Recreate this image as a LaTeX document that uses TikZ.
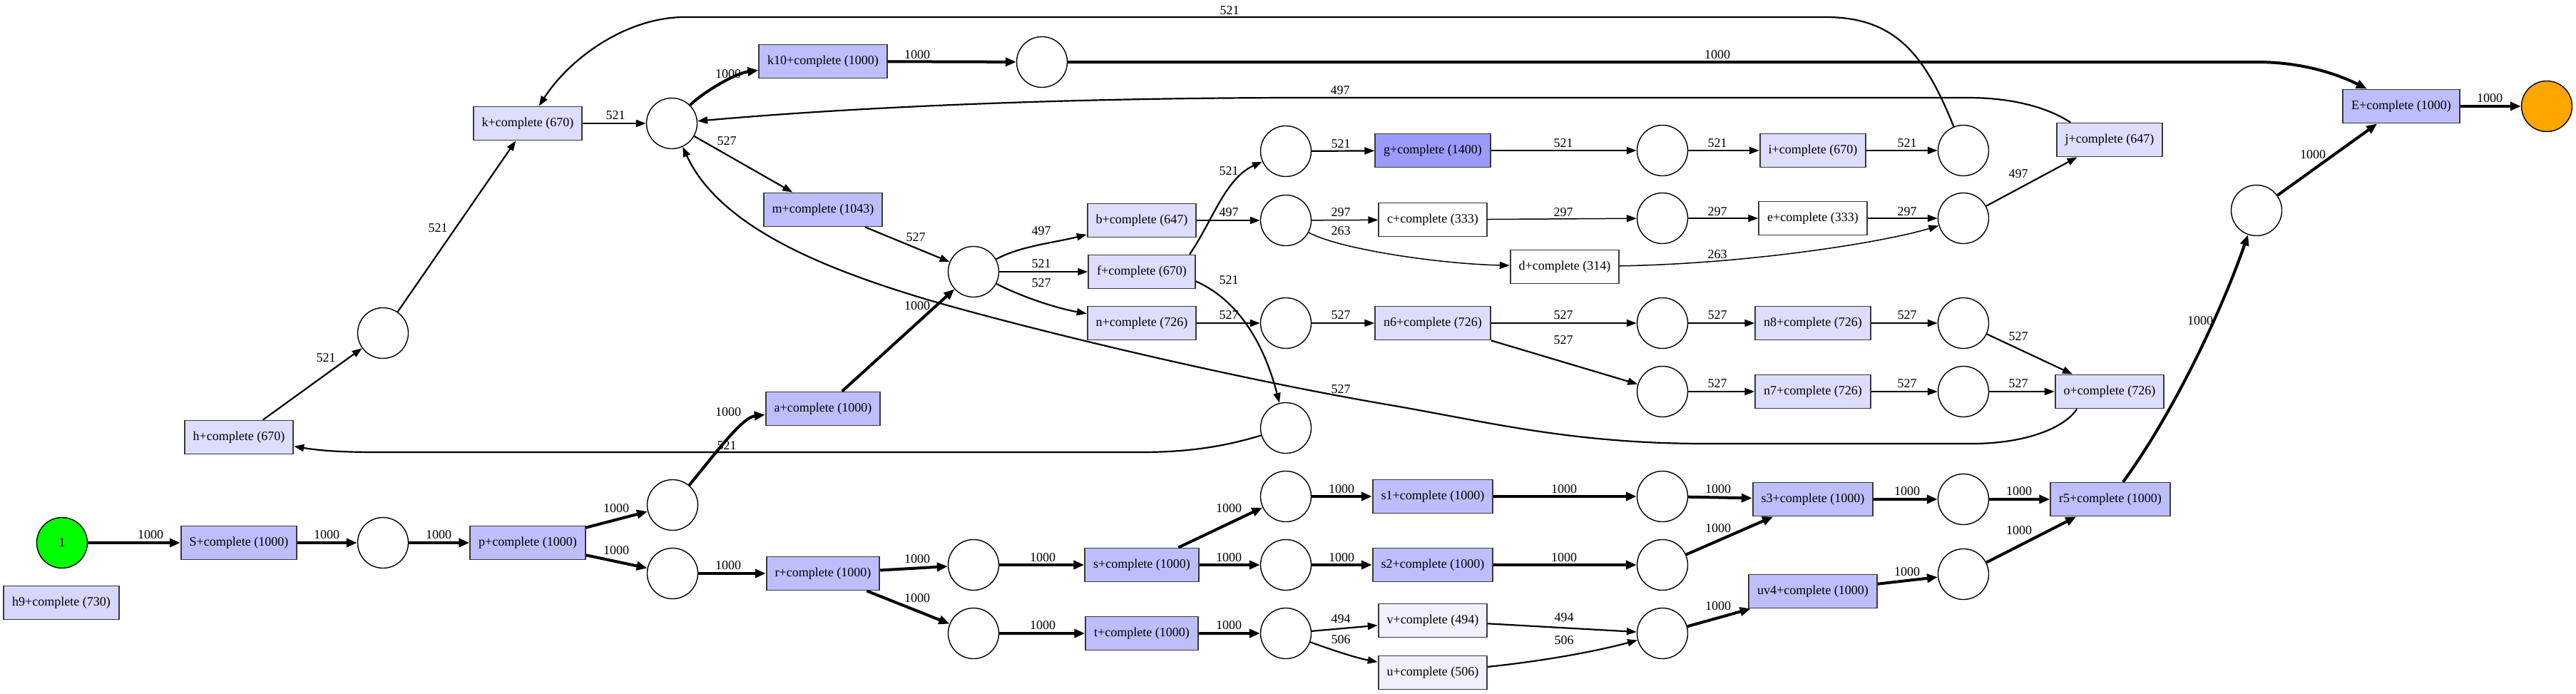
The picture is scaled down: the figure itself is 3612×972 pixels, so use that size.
\documentclass[tikz,border=0pt]{standalone}
\usepackage{fontspec}
\setmainfont{Liberation Serif}
\usetikzlibrary{arrows.meta}
\definecolor{c1000}{RGB}{190,190,255}
\definecolor{c670}{RGB}{221,221,255}
\definecolor{c730}{RGB}{214,214,255}
\definecolor{c1400}{RGB}{155,155,255}
\definecolor{c494}{RGB}{240,240,255}
\definecolor{c333}{RGB}{253,253,255}
\definecolor{cgreen}{RGB}{0,255,0}
\definecolor{corange}{RGB}{255,165,0}
\begin{document}
\begin{tikzpicture}[x=1pt,y=-1pt,
  tr/.style={draw=black!78, line width=1.8pt, rectangle, minimum height=47pt, inner xsep=12pt, inner ysep=0pt, font=\fontsize{18}{20}\selectfont},
  pl/.style={draw=black, circle, line width=1.4pt, minimum size=71pt, inner sep=0pt, fill=white, font=\fontsize{18}{20}\selectfont},
  lbl/.style={inner sep=0pt, font=\fontsize{18}{20}\selectfont},
  e4/.style={line width=4pt, -{Triangle[length=15pt,width=12pt]}},
  e2/.style={line width=2.2pt, -{Triangle[length=14pt,width=10pt]}},
  e1/.style={line width=1.5pt, -{Triangle[length=14pt,width=10pt]}}]
\useasboundingbox (0,0) rectangle (3612,972);
% transitions
\node[tr,fill=c1000] (S) at (335,761) {S+complete (1000)};
\node[tr,fill=c670] (h) at (335,613) {h+complete (670)};
\node[tr,fill=c730] (h9) at (86,845) {h9+complete (730)};
\node[tr,fill=c1000] (p) at (740,761) {p+complete (1000)};
\node[tr,fill=c670] (k) at (740,173) {k+complete (670)};
\node[tr,fill=c1000] (k10) at (1154,86) {k10+complete (1000)};
\node[tr,fill=c1000] (m) at (1154,294) {m+complete (1043)};
\node[tr,fill=c1000] (a) at (1154,573) {a+complete (1000)};
\node[tr,fill=c1000] (r) at (1154,804) {r+complete (1000)};
\node[tr,fill=c670] (b) at (1601,309) {b+complete (647)};
\node[tr,fill=c670] (f) at (1601,381) {f+complete (670)};
\node[tr,fill=c670] (n) at (1601,453) {n+complete (726)};
\node[tr,fill=c1000] (s) at (1601,792) {s+complete (1000)};
\node[tr,fill=c1000] (t) at (1601,888) {t+complete (1000)};
\node[tr,fill=c1400] (g) at (2009,211) {g+complete (1400)};
\node[tr,fill=c333] (c) at (2009,308) {c+complete (333)};
\node[tr,fill=c333] (d) at (2194,374) {d+complete (314)};
\node[tr,fill=c670] (n6) at (2009,453) {n6+complete (726)};
\node[tr,fill=c1000] (s1) at (2009,696) {s1+complete (1000)};
\node[tr,fill=c1000] (s2) at (2009,792) {s2+complete (1000)};
\node[tr,fill=c494] (v) at (2009,870) {v+complete (494)};
\node[tr,fill=c494] (u) at (2009,943) {u+complete (506)};
\node[tr,fill=c670] (i) at (2542,211) {i+complete (670)};
\node[tr,fill=c333] (e) at (2542,306) {e+complete (333)};
\node[tr,fill=c670] (n8) at (2542,453) {n8+complete (726)};
\node[tr,fill=c670] (n7) at (2542,549) {n7+complete (726)};
\node[tr,fill=c1000] (s3) at (2542,700) {s3+complete (1000)};
\node[tr,fill=c1000] (uv4) at (2542,829) {uv4+complete (1000)};
\node[tr,fill=c670] (j) at (2958,196) {j+complete (647)};
\node[tr,fill=c670] (o) at (2958,549) {o+complete (726)};
\node[tr,fill=c1000] (r5) at (2959,700) {r5+complete (1000)};
\node[tr,fill=c1000] (E) at (3367,149) {E+complete (1000)};
% places
\node[pl,fill=cgreen] (start) at (87,761) {1};
\node[pl,fill=corange] (end) at (3571,149) {};
\node[pl] (P1) at (537,761) {};
\node[pl] (A) at (943,708) {};
\node[pl] (R) at (943,804) {};
\node[pl] (H) at (537,467) {};
\node[pl] (K) at (942,173) {};
\node[pl] (K10p) at (1461,87) {};
\node[pl] (M) at (1365,381) {};
\node[pl] (S0) at (1365,792) {};
\node[pl] (T0) at (1365,888) {};
\node[pl] (G1) at (1803,212) {};
\node[pl] (C1) at (1803,309) {};
\node[pl] (N1) at (1803,453) {};
\node[pl] (F2) at (1803,600) {};
\node[pl] (S1a) at (1803,696) {};
\node[pl] (S2a) at (1803,792) {};
\node[pl] (T1) at (1803,888) {};
\node[pl] (G2) at (2331,211) {};
\node[pl] (C2) at (2331,306) {};
\node[pl] (N6a) at (2331,453) {};
\node[pl] (N6b) at (2331,549) {};
\node[pl] (S1b) at (2331,696) {};
\node[pl] (S2b) at (2331,792) {};
\node[pl] (UV) at (2331,888) {};
\node[pl] (I2) at (2753,211) {};
\node[pl] (E2) at (2753,306) {};
\node[pl] (N8) at (2753,453) {};
\node[pl] (N7) at (2753,549) {};
\node[pl] (S3) at (2753,700) {};
\node[pl] (UV4) at (2753,805) {};
\node[pl] (R5) at (3164,295) {};
% arcs
\draw[e4] (start) -- (S);
\draw[e4] (S) -- (P1);
\draw[e4] (P1) -- (p);
\draw[e4] (p) -- (A);
\draw[e4] (p) -- (R);
\draw[e4] (A) .. controls (1000,640) and (1040,585) .. (a);
\draw[e4] (a) -- (M);
\draw[e4] (R) -- (r);
\draw[e4] (r) -- (S0);
\draw[e4] (r) -- (T0);
\draw[e4] (S0) -- (s);
\draw[e4] (s) -- (S1a);
\draw[e4] (s) -- (S2a);
\draw[e4] (T0) -- (t);
\draw[e4] (t) -- (T1);
\draw[e2] (T1) -- (v);
\draw[e2] (T1) .. controls (1870,912) and (1900,922) .. (u);
\draw[e4] (S1a) -- (s1);
\draw[e4] (S2a) -- (s2);
\draw[e4] (s1) -- (S1b);
\draw[e4] (s2) -- (S2b);
\draw[e2] (v) -- (UV);
\draw[e2] (u) .. controls (2180,925) and (2250,910) .. (UV);
\draw[e4] (S1b) -- (s3);
\draw[e4] (S2b) -- (s3);
\draw[e4] (UV) -- (uv4);
\draw[e4] (s3) -- (S3);
\draw[e4] (uv4) -- (UV4);
\draw[e4] (S3) -- (r5);
\draw[e4] (UV4) -- (r5);
\draw[e4] (r5) .. controls (3040,590) and (3110,450) .. (R5);
\draw[e4] (R5) -- (E);
\draw[e4] (E) -- (end);
\draw[e2] (M) .. controls (1430,345) and (1480,340) .. (b);
\draw[e2] (M) -- (f);
\draw[e2] (M) .. controls (1430,415) and (1480,432) .. (n);
\draw[e2] (b) -- (C1);
\draw[e2] (f.20) .. controls (1700,310) and (1718,250) .. (G1);
\draw[e2] (f.-10) .. controls (1735,420) and (1772,480) .. (F2);
\draw[e2] (G1) -- (g);
\draw[e1] (C1) -- (c);
\draw[e1] (C1) .. controls (1880,350) and (2020,370) .. (d);
\draw[e2] (n) -- (N1);
\draw[e2] (N1) -- (n6);
\draw[e2] (g) -- (G2);
\draw[e1] (c) -- (C2);
\draw[e2] (n6) -- (N6a);
\draw[e2] (n6) -- (N6b);
\draw[e2] (G2) -- (i);
\draw[e2] (i) -- (I2);
\draw[e1] (C2) -- (e);
\draw[e1] (e) -- (E2);
\draw[e1] (d) .. controls (2450,370) and (2640,340) .. (E2);
\draw[e2] (E2) -- (j);
\draw[e2] (N6a) -- (n8);
\draw[e2] (n8) -- (N8);
\draw[e2] (N8) -- (o);
\draw[e2] (N6b) -- (n7);
\draw[e2] (n7) -- (N7);
\draw[e2] (N7) -- (o);
\draw[e2] (o.208) .. controls (2895,600) and (2840,622) .. (2765,622) -- (2390,622) .. controls (2200,622) and (2080,590) .. (1944,567) .. controls (1700,525) and (1420,455) .. (1300,420) .. controls (1160,378) and (1010,320) .. (K);
\draw[e4] (K) .. controls (985,130) and (1030,103) .. (k10);
\draw[e2] (K) -- (m);
\draw[e2] (m) -- (M);
\draw[e4] (k10) -- (K10p);
\draw[e4] (K10p) -- (3165,87) .. controls (3230,87) and (3280,105) .. (E);
\draw[e2] (k) -- (K);
\draw[e2] (H) -- (k);
\draw[e2] (h) -- (H);
\draw[e2] (F2) .. controls (1720,625) and (1670,634) .. (1600,634) -- (530,634) .. controls (480,634) and (450,632) .. (h);
\draw[e2] (I2) .. controls (2700,80) and (2660,24) .. (2560,24) -- (960,24) .. controls (880,24) and (800,80) .. (k);
\draw[e2] (j.156) .. controls (2870,150) and (2820,137) .. (2760,137) -- (1830,137) .. controls (1500,137) and (1200,150) .. (K);
% arc labels
\node[lbl] (L01) at (211,750) {1000};
\node[lbl] (L02) at (458,750) {1000};
\node[lbl] (L03) at (615,750) {1000};
\node[lbl] (L04) at (864,713) {1000};
\node[lbl] (L05) at (864,772) {1000};
\node[lbl] (L06) at (1021,578) {1000};
\node[lbl] (L07) at (1019,625) {521};
\node[lbl] (L08) at (1286,429) {1000};
\node[lbl] (L09) at (1021,793) {1000};
\node[lbl] (L10) at (1286,784) {1000};
\node[lbl] (L11) at (1286,839) {1000};
\node[lbl] (L12) at (1462,782) {1000};
\node[lbl] (L13) at (1723,713) {1000};
\node[lbl] (L14) at (1723,782) {1000};
\node[lbl] (L15) at (1462,877) {1000};
\node[lbl] (L16) at (1723,877) {1000};
\node[lbl] (L17) at (1880,868) {494};
\node[lbl] (L18) at (1880,897) {506};
\node[lbl] (L19) at (1881,686) {1000};
\node[lbl] (L20) at (1881,782) {1000};
\node[lbl] (L21) at (2193,686) {1000};
\node[lbl] (L22) at (2193,782) {1000};
\node[lbl] (L23) at (2193,866) {494};
\node[lbl] (L24) at (2193,898) {506};
\node[lbl] (L25) at (2409,686) {1000};
\node[lbl] (L26) at (2409,741) {1000};
\node[lbl] (L27) at (2409,850) {1000};
\node[lbl] (L28) at (2674,689) {1000};
\node[lbl] (L29) at (2674,802) {1000};
\node[lbl] (L30) at (2831,689) {1000};
\node[lbl] (L31) at (2831,744) {1000};
\node[lbl] (L32) at (3085,450) {1000};
\node[lbl] (L33) at (3243,217) {1000};
\node[lbl] (L34) at (3491,138) {1000};
\node[lbl] (L35) at (1460,324) {497};
\node[lbl] (L36) at (1460,370) {521};
\node[lbl] (L37) at (1460,397) {527};
\node[lbl] (L38) at (1723,298) {497};
\node[lbl] (L39) at (1723,240) {521};
\node[lbl] (L40) at (1723,393) {521};
\node[lbl] (L41) at (1880,202) {521};
\node[lbl] (L42) at (1880,298) {297};
\node[lbl] (L43) at (1880,324) {263};
\node[lbl] (L44) at (1723,442) {527};
\node[lbl] (L45) at (1880,442) {527};
\node[lbl] (L46) at (2192,201) {521};
\node[lbl] (L47) at (2192,298) {297};
\node[lbl] (L48) at (2192,442) {527};
\node[lbl] (L49) at (2192,477) {527};
\node[lbl] (L50) at (2408,201) {521};
\node[lbl] (L51) at (2674,201) {521};
\node[lbl] (L52) at (2408,297) {297};
\node[lbl] (L53) at (2674,297) {297};
\node[lbl] (L54) at (2408,357) {263};
\node[lbl] (L55) at (2830,244) {497};
\node[lbl] (L56) at (2408,442) {527};
\node[lbl] (L57) at (2674,442) {527};
\node[lbl] (L58) at (2830,472) {527};
\node[lbl] (L59) at (2408,538) {527};
\node[lbl] (L60) at (2674,538) {527};
\node[lbl] (L61) at (2830,538) {527};
\node[lbl] (L62) at (1880,546) {527};
\node[lbl] (L63) at (1021,104) {1000};
\node[lbl] (L64) at (1019,198) {527};
\node[lbl] (L65) at (1284,333) {527};
\node[lbl] (L66) at (1286,77) {1000};
\node[lbl] (L67) at (2408,77) {1000};
\node[lbl] (L68) at (863,162) {521};
\node[lbl] (L69) at (614,320) {521};
\node[lbl] (L70) at (457,502) {521};
\node[lbl] (L71) at (1724,15) {521};
\node[lbl] (L72) at (1879,127) {497};
\end{tikzpicture}
\end{document}
